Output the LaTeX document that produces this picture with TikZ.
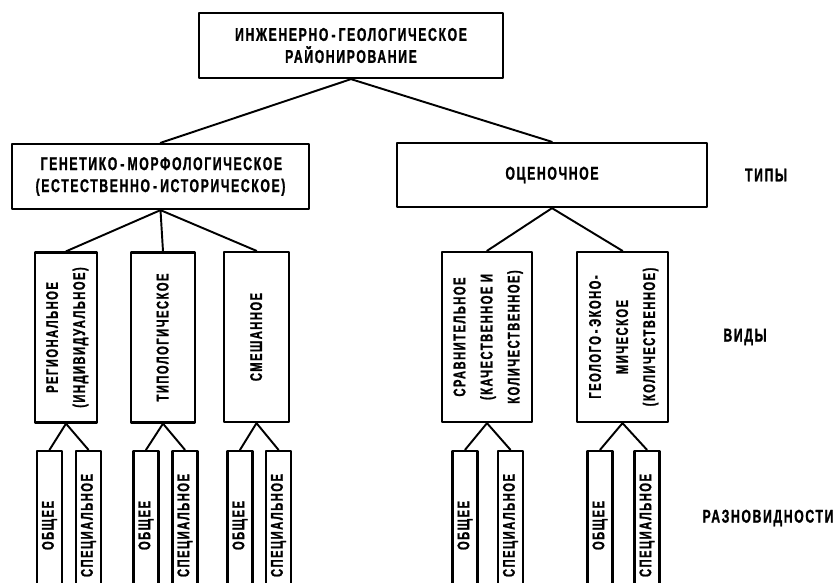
\documentclass[tikz,border=0pt]{standalone}
\usepackage{fontspec}
\usepackage{graphicx}
\newfontfamily\chertfont{Liberation Sans}[FakeStretch=0.66,LetterSpace=9,BoldFeatures={FakeBold=1.2}]
\begin{document}
\begin{tikzpicture}[x=0.2mm,y=-0.2mm,line join=round,line cap=round,line width=1.1pt]
		\useasboundingbox (0,0) rectangle (840,583);
		\clip (0,0) rectangle (840,583);
		\tikzset{
		yashik/.style={draw,line width=1.3pt,inner sep=0pt,align=center,
			font=\chertfont\bfseries\fontsize{10.5}{12.5}\selectfont},
		vid/.style={yashik,minimum height=34mm,font=\chertfont\bfseries\fontsize{9.6}{15.4}\selectfont},
		raznov/.style={yashik,minimum width=5mm,minimum height=29.8mm,
			font=\chertfont\bfseries\fontsize{9.6}{10}\selectfont},
		podpis/.style={font=\chertfont\bfseries\fontsize{10.5}{11}\selectfont}
		}
		\def\povorot#1{\rotatebox{90}{\begin{tabular}{@{}c@{}}#1\end{tabular}}}
		%tip
		\node[yashik,minimum width=60.8mm,minimum height=13mm] (koren) at (351,45.5)
		{ИНЖЕНЕРНО\,-\,ГЕОЛОГИЧЕСКОЕ\\РАЙОНИРОВАНИЕ};
		\node[yashik,align=left,minimum width=59.4mm,minimum height=13mm] (gen) at (160.5,176.5)
		{\ ГЕНЕТИКО\,-\,МОРФОЛОГИЧЕСКОЕ\\(ЕСТЕСТВЕННО\,-\,ИСТОРИЧЕСКОЕ)};
		\node[yashik,minimum width=62mm,minimum height=12.8mm] (ocen) at (552,175) {ОЦЕНОЧНОЕ};
		%vidy
		\node[vid,minimum width=12.4mm] (reg) at (66,337.5) {\povorot{РЕГИОНАЛЬНОЕ\\(ИНДИВИДУАЛЬНОЕ)}};
		\node[vid,minimum width=12.8mm] (tip) at (163,337.5) {\povorot{ТИПОЛОГИЧЕСКОЕ}};
		\node[vid,minimum width=13mm] (sme) at (256.5,337) {\povorot{СМЕШАННОЕ}};
		\node[vid,minimum width=18mm] (srav) at (487,337)
		{\povorot{СРАВНИТЕЛЬНОЕ\\(КАЧЕСТВЕННОЕ И\\КОЛИЧЕСТВЕННОЕ)}};
		\node[vid,minimum width=18.2mm] (geo) at (622.5,337)
		{\povorot{ГЕОЛОГО\,-\,ЭКОНО-\\МИЧЕСКОЕ\\(КОЛИЧЕСТВЕННОЕ)}};
		\draw (koren.south)--(gen.north) (koren.south)--(ocen.north);
		\foreach \v in {reg,tip,sme} \draw (gen.south)--(\v.north);
		\foreach \v in {srav,geo} \draw (ocen.south)--(\v.north);
		%raznovidnosti
		\foreach \p/\a/\b in {reg/49.5/88.5,tip/146/185,sme/240/278.5,srav/465/510.5,geo/600/647}{
		\node[raznov] (o\p) at (\a,525.5) {\rotatebox{90}{ОБЩЕЕ}};
		\node[raznov] (s\p) at (\b,525.5) {\rotatebox{90}{СПЕЦИАЛЬНОЕ}};
		\draw (\p.south)--(o\p.north) (\p.south)--(s\p.north);
		}
		\node[podpis] (tipy) at (766,175) {ТИПЫ};
		\node[podpis] (vidy) at (745,337) {ВИДЫ};
		\node[podpis] (razn) at (768,518) {РАЗНОВИДНОСТИ};
	\end{tikzpicture}
\end{document}
